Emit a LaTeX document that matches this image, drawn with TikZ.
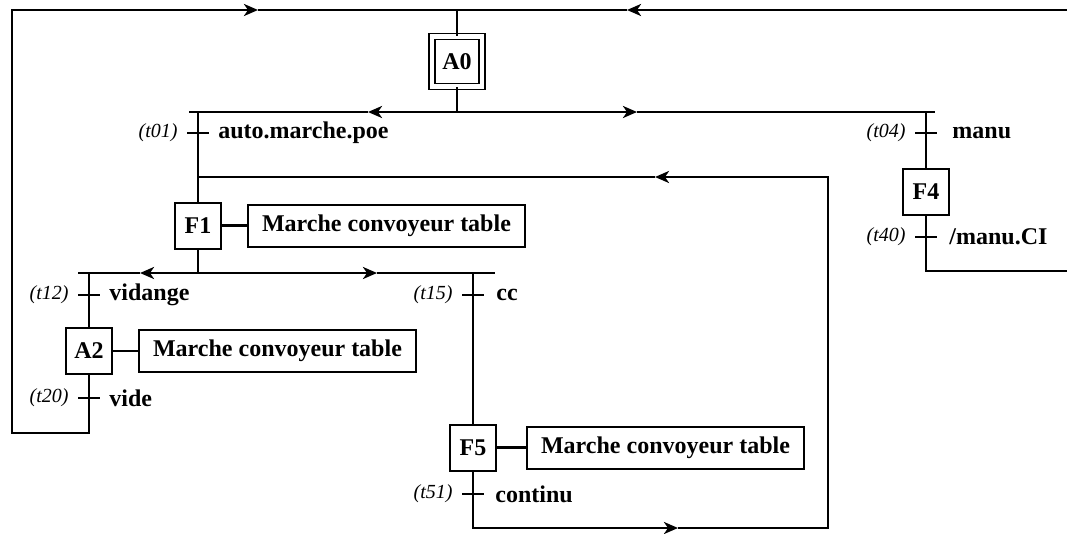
\documentclass[tikz,border=0pt]{standalone}
\usepackage{fontspec}
\setmainfont{Liberation Serif}
\usetikzlibrary{arrows.meta,positioning}

\tikzset{
  link/.style={line width=2.8pt},
  flow/.style={link,-{Stealth[length=14pt,width=12pt,inset=4pt]}},
  etape/.style={draw,line width=2pt,minimum size=46pt,inner sep=0pt,
    font=\fontsize{24}{28}\selectfont\bfseries},
  etapeinit/.style={etape,double,double distance=4.6pt,line width=1.6pt,minimum size=50pt},
  action/.style={draw,line width=2pt,minimum width=277pt,minimum height=42pt,
    inner sep=0pt,font=\fontsize{24}{28}\selectfont\bfseries},
  actlink/.style={line width=2.4pt},
  trans/.style={fill=black,minimum width=22pt,minimum height=2.8pt,inner sep=0pt},
  cond/.style={font=\fontsize{24}{28}\selectfont\bfseries,inner sep=0pt,label distance=9pt},
  tname/.style={font=\fontsize{20}{24}\selectfont\itshape,inner sep=0pt,label distance=9pt},
}

\begin{document}
\begin{tikzpicture}[x=1pt,y=-1pt]
  \useasboundingbox (0,0) rectangle (1067,533);

  \node[etapeinit] (A0) at (457,61.5) {A0};
  \node[etape] (F1) at (198,225.5) {F1};
  \node[etape] (A2) at (89,351) {A2};
  \node[etape] (F5) at (473,447.5) {F5};
  \node[etape] (F4) at (926,191.5) {F4};

  \node[action, right=25pt of F1] (actF1) {Marche convoyeur table};
  \node[action, right=25pt of A2] (actA2) {Marche convoyeur table};
  \node[action, right=29pt of F5] (actF5) {Marche convoyeur table};
  \draw[actlink] (F1) -- (actF1);
  \draw[actlink] (A2) -- (actA2);
  \draw[actlink] (F5) -- (actF5);

  \node[trans,label={[tname]left:(t01)},label={[cond]right:auto.marche.poe}] (t01) at (198,133) {};
  \node[trans,label={[tname]left:(t04)},label={[cond,label distance=15pt]right:manu}] (t04) at (926,133) {};
  \node[trans,label={[tname]left:(t40)},label={[cond,label distance=12pt]right:/manu.CI}] (t40) at (926,237) {};
  \node[trans,label={[tname]left:(t12)},label={[cond]right:vidange}] (t12) at (89,295) {};
  \node[trans,label={[tname]left:(t15)},label={[cond,label distance=12pt]right:cc}] (t15) at (473,295) {};
  \node[trans,label={[tname]left:(t20)},label={[cond]right:vide}] (t20) at (89,398) {};
  \node[trans,label={[tname]left:(t51)},label={[cond,label distance=11pt]right:continu}] (t51) at (473,494) {};

  \coordinate (j0) at (457,112);
  \coordinate (j0l) at (189,112);
  \coordinate (j0r) at (935,112);
  \coordinate (b1) at (198,112);
  \coordinate (b4) at (926,112);
  \coordinate (j1) at (198,177);
  \coordinate (j2) at (198,273);
  \coordinate (j2l) at (78,273);
  \coordinate (j2r) at (495,273);
  \coordinate (b2) at (89,273);
  \coordinate (b5) at (473,273);
  \coordinate (c0) at (89,433);
  \coordinate (c1) at (12,433);
  \coordinate (c2) at (12,10);
  \coordinate (c3) at (457,10);
  \coordinate (c4) at (1067,10);
  \coordinate (c5) at (926,271);
  \coordinate (c6) at (1067,271);
  \coordinate (c7) at (473,528);
  \coordinate (c8) at (828,528);
  \coordinate (c9) at (828,177);
  \coordinate (r1) at (258,10);
  \coordinate (r2) at (627,10);
  \coordinate (r3) at (678,528);
  \coordinate (r4) at (655,177);
  \coordinate (r5) at (140,273);
  \coordinate (r6) at (377,273);
  \coordinate (a01) at (368,112);
  \coordinate (a04) at (637,112);

  % returns to A0
  \draw[flow] (A2) -- (c0) -- (c1) -- (c2) -- (r1);
  \draw[link] (r1) -- (c3) -- (A0);
  \draw[flow] (c4) -- (r2);
  \draw[link] (r2) -- (c3);

  % choice after A0
  \draw[link] (A0) -- (j0);
  \draw[flow] (j0) -- (a01);
  \draw[link] (a01) -- (j0l);
  \draw[flow] (j0) -- (a04);
  \draw[link] (a04) -- (j0r);
  \draw[link] (b1) -- (F1);
  \draw[link] (b4) -- (F4) -- (c5) -- (c6);

  % choice after F1
  \draw[link] (F1) -- (j2);
  \draw[flow] (j2) -- (r5);
  \draw[link] (r5) -- (j2l);
  \draw[flow] (j2) -- (r6);
  \draw[link] (r6) -- (j2r);
  \draw[link] (b2) -- (A2);
  \draw[link] (b5) -- (F5);

  % loop F5 back to F1
  \draw[flow] (F5) -- (c7) -- (r3);
  \draw[flow] (r3) -- (c8) -- (c9) -- (r4);
  \draw[link] (r4) -- (j1);
\end{tikzpicture}
\end{document}
